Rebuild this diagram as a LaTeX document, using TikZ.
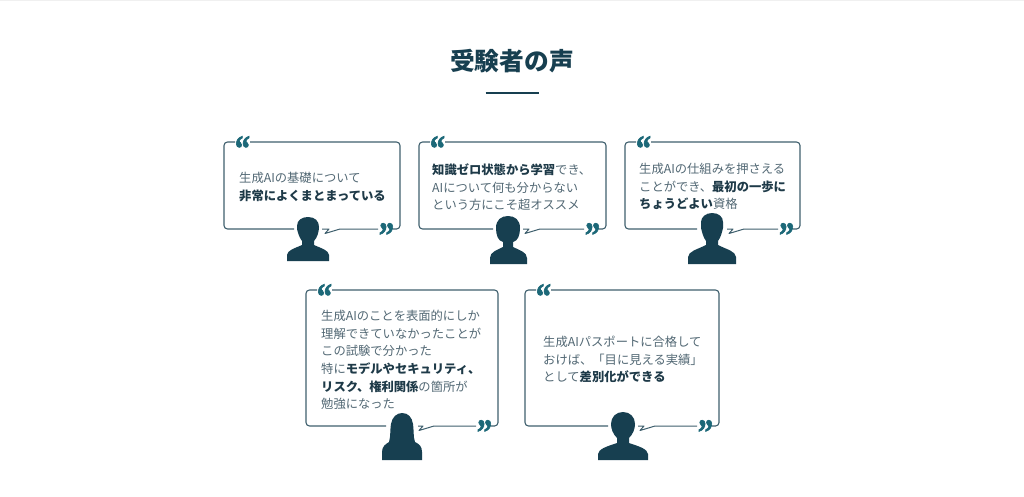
\documentclass[tikz,border=0pt]{standalone}
\usepackage{fontspec}
\setmainfont{Noto Sans CJK JP}
\newfontfamily\quotefont[FakeBold=2]{Liberation Serif}
\definecolor{inktext}{HTML}{526874}
\definecolor{inkbold}{HTML}{1E3A48}
\definecolor{inkline}{HTML}{3F606E}
\definecolor{inkfill}{HTML}{173F50}
\definecolor{inkquote}{HTML}{1C6878}
\tikzset{
	voice/.style={anchor=west, align=left, inner sep=0pt, text=inktext, font=\fontsize{12.3}{17.6}\selectfont},
	title/.style={inner sep=0pt, text=inkfill, font=\fontsize{24.7}{28}\selectfont\bfseries},
	quotemark/.style={inner sep=0pt, text=inkquote, yscale=1.15, xscale=0.95, font=\fontsize{32}{32}\quotefont\bfseries},
	balloon/.style={draw=inkline, line width=1.1pt, rounded corners=3.5pt, line join=round},
	silhouette/.style={fill=inkfill, draw=none}
}
\newcommand{\hi}[1]{\textcolor{inkbold}{\bfseries #1}}
% x1, x2, y1, y2, person x, head half width, name
\newcommand{\balloon}[7]{
	\draw[balloon] (#1+11,#3) -- (#1,#3) -- (#1,#4) -- (#5-#6-3,#4);
	\draw[balloon] (#2-7,#4) -- (#2,#4) -- (#2,#3) -- (#1+26,#3);
	\draw[balloon, rounded corners=0pt, line width=1pt] (#5+#6+3,#4) -- (#5+21,#4) -- (#5+17,#4+4.5) -- (#5+32,#4) -- (#2-22,#4);
	\node[quotemark, anchor=north] (#7open) at (#1+18.5,#3-6) {“};
	\node[quotemark, anchor=north] (#7close) at (#2-13.5,#4-6) {”};
}
\begin{document}
\begin{tikzpicture}[x=1pt,y=-1pt]
	\useasboundingbox (0,0) rectangle (1024,496);
	\fill[white] (0,0) rectangle (1024,496);
	\fill[black!6] (0,0) rectangle (1024,1);
	% heading
	\node[title] (heading) at (512,61) {受験者の声};
	\draw[inkfill, line width=2.2pt] (485.5,93) -- (538.5,93);
	% balloons
	\balloon{224}{400}{142}{229}{308}{11}{one}
	\balloon{419}{606}{142}{229}{508}{12}{two}
	\balloon{625}{800}{142}{229}{712}{12}{three}
	\balloon{306}{498}{290}{426}{402}{13}{four}
	\balloon{525}{719}{290}{426}{623}{12}{five}
	% texts
	\node[voice] (textone) at (239,187) {生成AIの基礎について\\\hi{非常によくまとまっている}};
	\node[voice] (texttwo) at (432,187.5) {\hi{知識ゼロ状態から学習}でき、\\AIについて何も分からない\\という方にこそ超オススメ};
	\node[voice] (textthree) at (639,186.5) {生成AIの仕組みを押さえる\\ことができ、\hi{最初の一歩に}\\\hi{ちょうどよい}資格};
	\node[voice] (textfour) at (321,360) {生成AIのことを表面的にしか\\理解できていなかったことが\\この試験で分かった\\特に\hi{モデルやセキュリティ、}\\\hi{リスク、権利関係}の箇所が\\勉強になった};
	\node[voice] (textfive) at (543,359.5) {生成AIパスポートに合格して\\おけば、「目に見える実績」\\として\hi{差別化ができる}};
	% person one
	\fill[silhouette] (287,261) -- (287,255) .. controls (288,250) and (293,249) .. (302,245) -- (302,241) .. controls (299,237) and (298,233) .. (297,229) -- (297,226) .. controls (297,220) and (302,217) .. (308,217) .. controls (315,217) and (319,221) .. (319,227) .. controls (319,232) and (317,238) .. (314,241) -- (314,245) .. controls (323,249) and (328,250) .. (329,255) -- (329,261) -- cycle;
	% person two
	\fill[silhouette] (490,264) -- (490,258) .. controls (490,252) and (497,250) .. (503,247) -- (503,242) .. controls (498,241) and (496,235) .. (496,228) .. controls (496,220) and (501,216) .. (508,216) .. controls (515,216) and (520,220) .. (520,228) .. controls (520,235) and (518,241) .. (513,242) -- (513,247) .. controls (519,250) and (527,252) .. (527,258) -- (527,264) -- cycle;
	% person three
	\fill[silhouette] (688,264) -- (688,257) .. controls (689,251) and (696,250) .. (706,245) -- (706,241) .. controls (703,237) and (702,232) .. (701,228) -- (701,222) .. controls (701,217) and (706,213) .. (712,213) .. controls (719,213) and (723,217) .. (723,222) -- (723,228) .. controls (722,232) and (721,237) .. (718,241) -- (718,245) .. controls (728,250) and (735,251) .. (736,257) -- (736,264) -- cycle;
	% person four
	\fill[silhouette] (382,460) -- (382,452) .. controls (382,446) and (386,444) .. (389,442) .. controls (391,434) and (390,428) .. (391,424) .. controls (392,417) and (397,413) .. (402,413) .. controls (408,413) and (412,417) .. (413,424) .. controls (414,430) and (413,436) .. (415,442) .. controls (419,444) and (422,446) .. (422,452) -- (422,460) -- cycle;
	% person five
	\fill[silhouette] (598,460) -- (598,454) .. controls (599,449) and (605,447) .. (617,443) -- (617,438) .. controls (613,434) and (611,429) .. (611,424) .. controls (611,417) and (616,412) .. (623,412) .. controls (630,412) and (635,417) .. (635,424) .. controls (635,429) and (633,434) .. (629,438) -- (629,443) .. controls (641,447) and (647,449) .. (648,454) -- (648,460) -- cycle;
\end{tikzpicture}
\end{document}
